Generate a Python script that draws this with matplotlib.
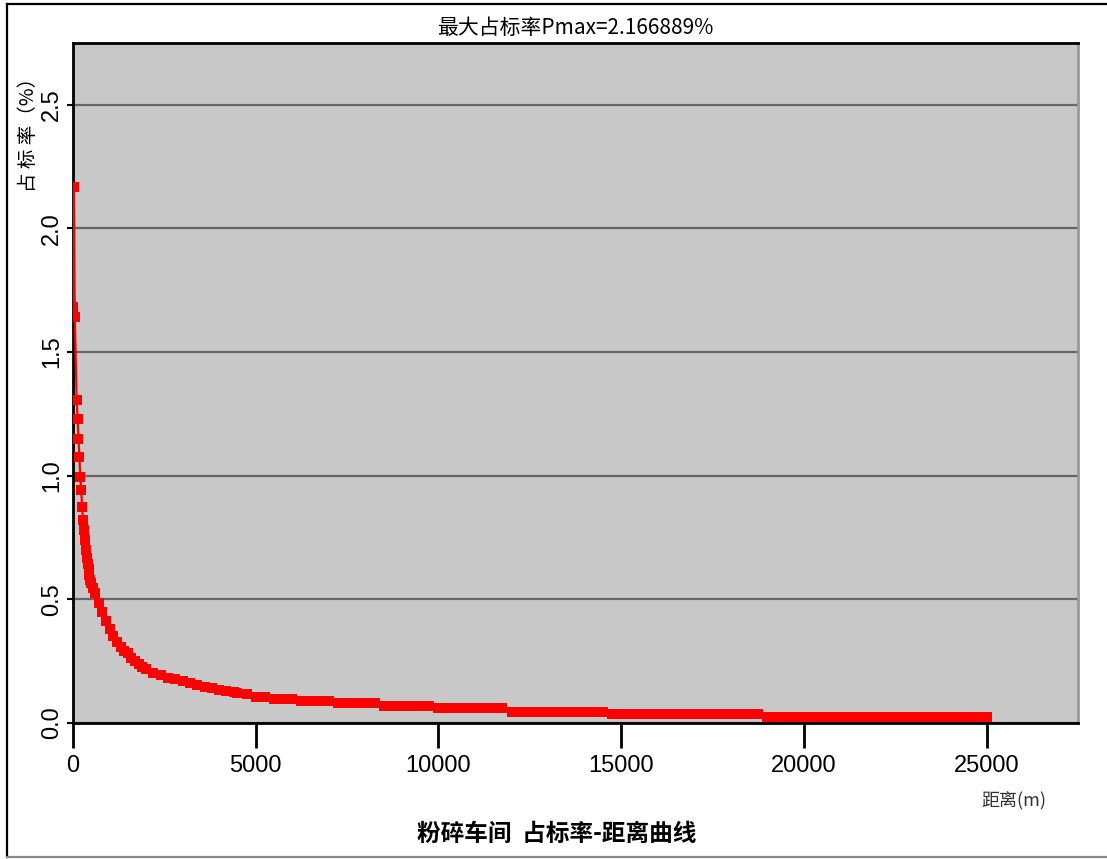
import matplotlib
matplotlib.use("Agg")
import matplotlib.pyplot as plt
from matplotlib.lines import Line2D

# distance (m) and occupancy ratio (%)
distance = [10, 25, 50, 100, 125, 150, 175, 200, 225, 250, 275, 300, 325, 350, 375,
            400, 425, 450, 475, 500, 550, 600, 700, 800, 900, 1000, 1100, 1200, 1300,
            1400, 1500, 1600, 1700, 1800, 1900, 2000, 2200, 2400, 2600, 2800, 3000,
            3200, 3400, 3600, 3800, 4000, 4200, 4400,
            4500, 4750, 5000, 5250, 5500, 5750, 6000, 6250, 6500, 6750, 7000, 7250,
            7500, 7750, 8000, 8250, 8500, 8750, 9000, 9250, 9500, 9750, 10000, 10250,
            10500, 10750, 11000, 11250, 11500, 11750, 12000, 12250, 12500, 12750,
            13000, 13250, 13500, 13750, 14000, 14250, 14500, 14750, 15000, 15250,
            15500, 15750, 16000, 16250, 16500, 16750, 17000, 17250, 17500, 17750,
            18000, 18250, 18500, 18750, 19000, 19250, 19500, 19750, 20000, 20250,
            20500, 20750, 21000, 21250, 21500, 21750, 22000, 22250, 22500, 22750,
            23000, 23250, 23500, 23750, 24000, 24250, 24500, 24750, 25000]

ratio = [1.681, 2.166889, 1.641, 1.305, 1.231, 1.150, 1.076, 0.995, 0.941, 0.874,
         0.820, 0.779, 0.739, 0.699, 0.666,
         0.645, 0.622, 0.600, 0.580, 0.565, 0.545, 0.525, 0.485, 0.450, 0.412, 0.380,
         0.352, 0.327, 0.306, 0.292, 0.282, 0.264, 0.250, 0.238, 0.228, 0.218, 0.204,
         0.193, 0.183, 0.176, 0.169, 0.161, 0.153, 0.146, 0.140, 0.135, 0.130, 0.125,
         0.122, 0.116, 0.106, 0.106, 0.098, 0.098, 0.098, 0.090, 0.090, 0.090, 0.090,
         0.082, 0.082, 0.082, 0.082, 0.082, 0.070, 0.070, 0.070, 0.070, 0.070, 0.070,
         0.062, 0.062, 0.062, 0.062, 0.062, 0.062, 0.062, 0.062,
         0.043, 0.043, 0.043, 0.043, 0.043, 0.043, 0.043, 0.043, 0.043, 0.043, 0.043,
         0.035, 0.035, 0.035, 0.035, 0.035, 0.035, 0.035, 0.035, 0.035, 0.035, 0.035,
         0.035, 0.035, 0.035, 0.035, 0.035, 0.035,
         0.026, 0.026, 0.026, 0.026, 0.026, 0.026, 0.026, 0.026, 0.026, 0.026, 0.026,
         0.026, 0.026, 0.025, 0.025, 0.025, 0.025, 0.025, 0.025, 0.025, 0.025, 0.025,
         0.025, 0.024, 0.024]

xticks = [0, 5000, 10000, 15000, 20000, 25000]
yticks = [0.0, 0.5, 1.0, 1.5, 2.0, 2.5]
ytick_labels = ["0.0", "0.5", "1.0", "1.5", "2.0", "2.5"]

title = "最大占标率Pmax=2.166889%"
bottom_title = "粉碎车间  占标率-距离曲线"
xlabel = "距离(m)"
ylabel = "占 标 率（%）"

cjk = ["Noto Sans CJK SC", "DejaVu Sans"]
narrow = ["Liberation Sans Narrow", "Liberation Sans", "DejaVu Sans"]

W, H = 1107, 859
fig = plt.figure(figsize=(W / 100, H / 100), dpi=100)
ax = fig.add_axes([73 / W, (H - 723) / H, (1078 - 73) / W, (723 - 43) / H])
ax.set_facecolor("#c8c8c8")

ax.plot(distance, ratio, color="red", lw=1.6, marker="s", markersize=7.5,
        markeredgewidth=0, zorder=3)

ax.set_xlim(0, 27500)
ax.set_ylim(0, 2.75)
ax.set_xticks(xticks)
ax.set_xticklabels([str(v) for v in xticks], family=narrow, fontsize=17)
ax.set_yticks(yticks)
ax.set_yticklabels(ytick_labels, family=narrow, fontsize=17, rotation=90, va="center")

ax.tick_params(axis="x", direction="out", length=18, width=2, pad=5, colors="black")
ax.tick_params(axis="y", direction="out", length=4, width=1.5, pad=3, colors="black")
ax.grid(axis="y", color="#666666", lw=1.6)
ax.set_axisbelow(True)

for side in ["left", "bottom", "top"]:
    ax.spines[side].set_color("black")
    ax.spines[side].set_linewidth(2)
ax.spines["right"].set_color("#999999")
ax.spines["right"].set_linewidth(2)

fig.text(575 / W, 1 - 28 / H, title, ha="center", va="center", fontsize=15, family=cjk)
fig.text(557 / W, 1 - 834 / H, bottom_title, ha="center", va="center", fontsize=17,
         fontweight="bold", family=cjk)
fig.text(1014 / W, 1 - 801 / H, xlabel, ha="center", va="center", fontsize=13,
         color="#333333", family=cjk)
fig.text(28 / W, 1 - 130 / H, ylabel, ha="center", va="center", fontsize=14,
         rotation=90, family=cjk)

# outer frame
fig.add_artist(Line2D([7 / W, 7 / W], [1 - 4 / H, 1 - 857 / H], color="black", lw=1.6))
fig.add_artist(Line2D([7 / W, 1], [1 - 4 / H, 1 - 4 / H], color="black", lw=1.6))
fig.add_artist(Line2D([7 / W, 1], [1 - 857 / H, 1 - 857 / H], color="#888888", lw=1.6))

fig.savefig("out.png", dpi=100)
